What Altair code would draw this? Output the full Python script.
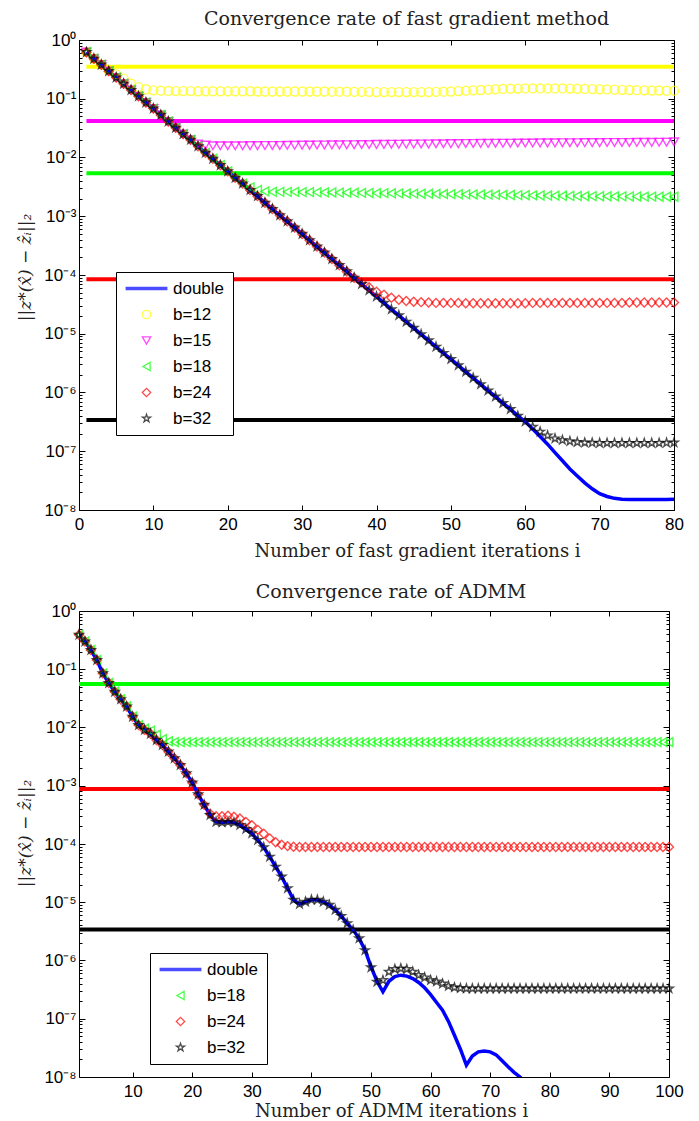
import json
import altair as alt
import pandas as pd

# ----------------------------------------------------------------- data
FG_ITER = list(range(1, 81))
AD_ITER = list(range(1, 101))

# fast gradient method, double precision
fg_double = [
    6.2e-1, 4.8e-1, 3.8e-1, 2.95e-1, 2.3e-1, 1.8e-1, 1.41e-1, 1.1e-1, 8.65e-2, 6.8e-2,
    5.3e-2, 4.1e-2, 3.2e-2, 2.5e-2, 2.0e-2, 1.55e-2, 1.2e-2, 9.5e-3, 7.4e-3, 5.8e-3,
    4.5e-3, 3.6e-3, 2.8e-3, 2.2e-3, 1.7e-3, 1.33e-3, 1.04e-3, 8.2e-4, 6.4e-4, 5.0e-4,
    3.9e-4, 3.05e-4, 2.4e-4, 1.87e-4, 1.47e-4, 1.15e-4, 8.95e-5, 7.0e-5, 5.5e-5, 4.3e-5,
    3.36e-5, 2.6e-5, 2.06e-5, 1.6e-5, 1.26e-5, 9.8e-6, 7.7e-6, 6.0e-6, 4.7e-6, 3.7e-6,
    2.9e-6, 2.25e-6, 1.77e-6, 1.38e-6, 1.08e-6, 8.5e-7, 6.6e-7, 5.2e-7, 4.0e-7, 3.2e-7,
    2.4e-7, 1.78e-7, 1.32e-7, 9.5e-8, 6.9e-8, 5.0e-8, 3.8e-8, 2.9e-8, 2.3e-8, 1.9e-8,
    1.7e-8, 1.58e-8, 1.53e-8, 1.51e-8, 1.51e-8, 1.51e-8, 1.51e-8, 1.51e-8, 1.51e-8, 1.52e-8,
]
fg_b12 = [
    6.2e-1, 4.8e-1, 3.8e-1, 3.0e-1, 2.6e-1, 2.2e-1, 1.8e-1, 1.58e-1, 1.45e-1, 1.39e-1,
    1.37e-1, 1.36e-1, 1.35e-1, 1.35e-1, 1.35e-1, 1.34e-1, 1.34e-1, 1.34e-1, 1.34e-1, 1.34e-1,
    1.34e-1, 1.34e-1, 1.34e-1, 1.33e-1, 1.33e-1, 1.33e-1, 1.33e-1, 1.33e-1, 1.33e-1, 1.33e-1,
    1.33e-1, 1.33e-1, 1.33e-1, 1.32e-1, 1.32e-1, 1.32e-1, 1.31e-1, 1.31e-1, 1.31e-1, 1.3e-1,
    1.3e-1, 1.3e-1, 1.3e-1, 1.3e-1, 1.3e-1, 1.3e-1, 1.3e-1, 1.31e-1, 1.32e-1, 1.33e-1,
    1.35e-1, 1.37e-1, 1.39e-1, 1.41e-1, 1.43e-1, 1.45e-1, 1.47e-1, 1.48e-1, 1.49e-1, 1.5e-1,
    1.5e-1, 1.5e-1, 1.5e-1, 1.5e-1, 1.5e-1, 1.49e-1, 1.48e-1, 1.47e-1, 1.46e-1, 1.45e-1,
    1.44e-1, 1.43e-1, 1.42e-1, 1.41e-1, 1.4e-1, 1.39e-1, 1.38e-1, 1.38e-1, 1.37e-1, 1.37e-1,
]
fg_b15 = fg_double[:15] + [
    1.7e-2, 1.62e-2, 1.58e-2, 1.58e-2, 1.58e-2,
    1.58e-2, 1.58e-2, 1.59e-2, 1.59e-2, 1.6e-2, 1.6e-2, 1.6e-2, 1.61e-2, 1.61e-2, 1.62e-2,
    1.62e-2, 1.63e-2, 1.63e-2, 1.64e-2, 1.64e-2, 1.65e-2, 1.65e-2, 1.66e-2, 1.66e-2, 1.67e-2,
    1.67e-2, 1.68e-2, 1.68e-2, 1.69e-2, 1.69e-2, 1.7e-2, 1.7e-2, 1.71e-2, 1.71e-2, 1.72e-2,
    1.72e-2, 1.73e-2, 1.73e-2, 1.74e-2, 1.74e-2, 1.75e-2, 1.75e-2, 1.75e-2, 1.76e-2, 1.76e-2,
    1.76e-2, 1.77e-2, 1.77e-2, 1.77e-2, 1.78e-2, 1.78e-2, 1.78e-2, 1.79e-2, 1.79e-2, 1.79e-2,
    1.8e-2, 1.8e-2, 1.8e-2, 1.8e-2, 1.81e-2, 1.81e-2, 1.81e-2, 1.82e-2, 1.82e-2, 1.85e-2,
]
fg_b18 = fg_double[:22] + [
    3.1e-3, 2.8e-3, 2.65e-3, 2.6e-3, 2.6e-3, 2.6e-3, 2.6e-3, 2.58e-3,
    2.57e-3, 2.56e-3, 2.55e-3, 2.54e-3, 2.53e-3, 2.52e-3, 2.51e-3, 2.5e-3, 2.49e-3, 2.48e-3,
    2.47e-3, 2.46e-3, 2.45e-3, 2.44e-3, 2.43e-3, 2.42e-3, 2.41e-3, 2.4e-3, 2.39e-3, 2.38e-3,
    2.37e-3, 2.36e-3, 2.35e-3, 2.34e-3, 2.33e-3, 2.32e-3, 2.31e-3, 2.3e-3, 2.29e-3, 2.28e-3,
    2.27e-3, 2.26e-3, 2.25e-3, 2.24e-3, 2.23e-3, 2.22e-3, 2.21e-3, 2.2e-3, 2.2e-3, 2.19e-3,
    2.19e-3, 2.18e-3, 2.18e-3, 2.17e-3, 2.17e-3, 2.16e-3, 2.16e-3, 2.15e-3, 2.15e-3, 2.15e-3,
]
fg_b24 = fg_double[:37] + [
    7.5e-5, 6.2e-5, 5.2e-5, 4.6e-5, 4.1e-5, 3.8e-5, 3.6e-5, 3.5e-5, 3.45e-5, 3.4e-5,
    3.35e-5, 3.35e-5, 3.35e-5, 3.35e-5, 3.3e-5, 3.3e-5, 3.3e-5, 3.3e-5, 3.3e-5, 3.3e-5, 3.3e-5,
    3.3e-5, 3.3e-5, 3.35e-5, 3.35e-5, 3.35e-5, 3.35e-5, 3.35e-5, 3.35e-5, 3.35e-5, 3.35e-5, 3.35e-5,
    3.35e-5, 3.35e-5, 3.35e-5, 3.35e-5, 3.4e-5, 3.4e-5, 3.4e-5, 3.4e-5, 3.4e-5, 3.4e-5, 3.4e-5,
]
fg_b32 = fg_double[:60] + [
    2.6e-7, 2.15e-7, 1.85e-7, 1.65e-7, 1.55e-7, 1.48e-7, 1.43e-7, 1.4e-7, 1.39e-7, 1.38e-7,
    1.38e-7, 1.38e-7, 1.38e-7, 1.38e-7, 1.38e-7, 1.38e-7, 1.38e-7, 1.38e-7, 1.39e-7, 1.4e-7,
]
fg_thr_values = [3.5e-1, 4.2e-2, 5.4e-3, 8.5e-5, 3.4e-7]

# ADMM, double precision (drops below the axis after i = 75)
ad_double = [
    3.9e-1, 3.0e-1, 2.14e-1, 1.44e-1, 8.5e-2, 5.8e-2, 4.1e-2, 3.05e-2, 2.29e-2, 1.53e-2,
    1.1e-2, 9.1e-3, 7.8e-3, 6.1e-3, 5.0e-3, 3.85e-3, 2.96e-3, 2.27e-3, 1.63e-3, 1.13e-3,
    7.1e-4, 4.7e-4, 3.15e-4, 2.4e-4, 2.35e-4, 2.4e-4, 2.35e-4, 2.12e-4, 1.81e-4, 1.52e-4,
    1.17e-4, 8.8e-5, 6.05e-5, 4.07e-5, 2.75e-5, 1.74e-5, 1.1e-5, 9.3e-6, 1.02e-5, 1.1e-5,
    1.1e-5, 1.02e-5, 9.0e-6, 7.4e-6, 5.8e-6, 4.36e-6, 3.34e-6, 2.4e-6, 1.5e-6, 7.8e-7,
    4.4e-7, 2.9e-7, 4.4e-7, 5.3e-7, 5.6e-7, 5.4e-7, 4.9e-7, 4.2e-7, 3.4e-7, 2.6e-7,
    1.9e-7, 1.4e-7, 9.0e-8, 5.2e-8, 3.0e-8, 1.6e-8, 2.3e-8, 2.7e-8, 2.8e-8, 2.7e-8,
    2.4e-8, 1.9e-8, 1.5e-8, 1.2e-8, 1.0e-8, 7.5e-9,
]
ad_b18 = ad_double[:11] + [
    9.5e-3, 8.8e-3, 7.5e-3, 6.3e-3, 5.8e-3,
    5.6e-3, 5.6e-3, 5.6e-3, 5.6e-3, 5.6e-3, 5.6e-3, 5.6e-3, 5.6e-3, 5.6e-3, 5.6e-3, 5.6e-3, 5.6e-3,
    5.6e-3, 5.6e-3, 5.6e-3, 5.6e-3, 5.6e-3, 5.6e-3, 5.6e-3, 5.6e-3, 5.6e-3, 5.6e-3, 5.6e-3, 5.6e-3,
    5.6e-3, 5.6e-3, 5.6e-3, 5.6e-3, 5.6e-3, 5.6e-3, 5.6e-3, 5.6e-3, 5.6e-3, 5.6e-3, 5.6e-3, 5.6e-3,
    5.6e-3, 5.6e-3, 5.6e-3, 5.6e-3, 5.6e-3, 5.6e-3, 5.6e-3, 5.6e-3, 5.6e-3, 5.6e-3, 5.6e-3, 5.6e-3,
    5.6e-3, 5.6e-3, 5.6e-3, 5.6e-3, 5.6e-3, 5.6e-3, 5.6e-3, 5.6e-3, 5.6e-3, 5.6e-3, 5.6e-3, 5.6e-3,
    5.6e-3, 5.6e-3, 5.6e-3, 5.6e-3, 5.6e-3, 5.6e-3, 5.6e-3, 5.6e-3, 5.6e-3, 5.6e-3, 5.6e-3, 5.6e-3,
    5.6e-3, 5.6e-3, 5.6e-3, 5.6e-3, 5.6e-3, 5.6e-3, 5.6e-3, 5.6e-3, 5.6e-3, 5.6e-3, 5.6e-3, 5.6e-3,
]
ad_b24 = ad_double[:22] + [
    3.3e-4, 3.0e-4, 3.0e-4, 3.05e-4, 2.95e-4, 2.75e-4, 2.4e-4, 2.1e-4, 1.75e-4, 1.5e-4,
    1.25e-4, 1.07e-4, 9.7e-5, 9.2e-5, 9.0e-5,
    8.9e-5, 8.9e-5, 8.9e-5, 8.9e-5, 8.9e-5, 8.9e-5, 8.9e-5, 8.9e-5, 8.9e-5, 8.9e-5, 8.9e-5, 8.9e-5,
    8.9e-5, 8.9e-5, 8.9e-5, 8.9e-5, 8.9e-5, 8.9e-5, 8.9e-5, 8.9e-5, 8.9e-5, 8.9e-5, 8.9e-5, 8.9e-5,
    8.9e-5, 8.9e-5, 8.9e-5, 8.9e-5, 8.9e-5, 8.9e-5, 8.9e-5, 8.9e-5, 8.9e-5, 8.9e-5, 8.9e-5, 8.9e-5,
    8.9e-5, 8.9e-5, 8.9e-5, 8.9e-5, 8.9e-5, 8.9e-5, 8.9e-5, 8.9e-5, 8.9e-5, 8.9e-5, 8.9e-5, 8.9e-5,
    8.9e-5, 8.9e-5, 8.9e-5, 8.9e-5, 8.9e-5, 8.9e-5, 8.9e-5, 8.9e-5, 8.9e-5, 8.9e-5, 8.9e-5, 8.9e-5,
    8.9e-5, 8.9e-5, 8.9e-5,
]
ad_b32 = ad_double[:49] + [
    7.6e-7, 4.3e-7, 4.6e-7, 6.4e-7, 7.1e-7, 7.3e-7, 7.1e-7, 6.4e-7, 5.6e-7, 5.1e-7,
    4.6e-7, 4.35e-7, 4.0e-7, 3.65e-7, 3.45e-7, 3.35e-7,
    3.3e-7, 3.3e-7, 3.3e-7, 3.3e-7, 3.3e-7, 3.3e-7, 3.3e-7, 3.3e-7, 3.3e-7, 3.3e-7, 3.3e-7, 3.3e-7,
    3.3e-7, 3.3e-7, 3.3e-7, 3.3e-7, 3.3e-7, 3.3e-7, 3.3e-7, 3.3e-7, 3.3e-7, 3.3e-7, 3.3e-7, 3.3e-7,
    3.3e-7, 3.3e-7, 3.3e-7, 3.3e-7, 3.3e-7, 3.3e-7, 3.3e-7, 3.3e-7, 3.3e-7, 3.3e-7, 3.3e-7,
]
ad_thr_values = [5.6e-2, 8.8e-4, 3.4e-6]

assert len(fg_double) == 80 and len(fg_b12) == 80 and len(fg_b15) == 80
assert len(fg_b18) == 80 and len(fg_b24) == 80 and len(fg_b32) == 80
assert len(ad_b18) == 100 and len(ad_b24) == 100 and len(ad_b32) == 100

FG_X_TICKS = [0, 10, 20, 30, 40, 50, 60, 70, 80]
AD_X_TICKS = [10, 20, 30, 40, 50, 60, 70, 80, 90, 100]
DECADES = [1e-8, 1e-7, 1e-6, 1e-5, 1e-4, 1e-3, 1e-2, 1e-1, 1e0]
MINOR_MULT = [2, 3, 4, 5, 6, 7, 8, 9]
Y_TICKS = DECADES + [m * d for d in DECADES[:-1] for m in MINOR_MULT]
EXP_LABELS = ["⁰", "⁻¹", "⁻²", "⁻³", "⁻⁴", "⁻⁵", "⁻⁶", "⁻⁷", "⁻⁸"]

# ----------------------------------------------------------------- style
STAR = ("M0,-1L0.225,-0.309L0.951,-0.309L0.363,0.118L0.588,0.809L0,0.382"
        "L-0.588,0.809L-0.363,0.118L-0.951,-0.309L-0.225,-0.309Z")
LINE_SYMBOL = "M-5,0L5,0"
SHAPES = {"b=12": "circle", "b=15": "triangle-down", "b=18": "triangle-left",
          "b=24": "diamond", "b=32": STAR}
COLORS = {"b=12": "#ffff00", "b=15": "#ff00ff", "b=18": "#00ff00",
          "b=24": "#ff0000", "b=32": "#000000"}
BLUE = "#0000ff"
SERIF = "DejaVu Serif"
SANS = "Liberation Sans"

IS_DECADE = "abs(log(datum.value)/LN10 - round(log(datum.value)/LN10)) < 0.01"
Y_LABEL_EXPR = (f"{IS_DECADE} ? '10' + {json.dumps(EXP_LABELS, ensure_ascii=False)}"
                f"[-round(log(datum.value)/LN10)] : ''")
Y_TICK_SIZE = {"condition": {"test": IS_DECADE, "value": 6}, "value": 3}


def panel(iters, double, series, thr_values, x_domain, x_ticks, W, H,
          title, title_dx, title_offset, xtitle, xtitle_x, xtitle_y, ytitle_y, leg_x, leg_y):
    names = [n for n, _ in series]
    rows = []
    for name, vals in series:
        for i, v in zip(iters, vals):
            rows.append({"i": i, "v": v, "series": name})
    pts = pd.DataFrame(rows)
    line = pd.DataFrame({"i": iters[:len(double)], "v": double})
    thr = pd.DataFrame({"x0": [iters[0]] * len(names), "x1": [iters[-1]] * len(names),
                        "v": thr_values, "col": [COLORS[n] for n in names]})

    xs = alt.Scale(domain=x_domain, nice=False, zero=False)
    ys = alt.Scale(type="log", domain=[1e-8, 1], nice=False)

    ax_x_main = alt.Axis(orient="bottom", values=x_ticks, ticks=False, domain=False, grid=False,
                         labelFont=SANS, labelFontSize=17, labelColor="black", labelPadding=6,
                         labelFlush=False, title=xtitle, titleFont=SERIF, titleFontSize=18,
                         titleFontWeight="normal", titleColor="#222", titleX=xtitle_x,
                         titleY=xtitle_y, titleAlign="center", titleBaseline="middle")
    ax_y_main = alt.Axis(orient="left", values=Y_TICKS, ticks=False, domain=False, grid=False,
                         labelExpr=Y_LABEL_EXPR, labelOverlap=False, labelFlush=False,
                         labelFont=SANS, labelFontSize=17, labelColor="black", labelPadding=3,
                         title="||z*(x̂) − ẑᵢ||₂", titleFont=SERIF, titleFontSize=17,
                         titleFontWeight="normal", titleFontStyle="italic", titleColor="#222",
                         titleX=-54, titleY=ytitle_y, titleAlign="center",
                         titleBaseline="middle", titleAngle=270)
    # inward ticks: axes pushed to the opposite side of the plot
    ax_x_bottom_in = alt.Axis(orient="top", offset=-H, values=x_ticks, labels=False,
                              domain=False, grid=False, tickSize=5, tickColor="black",
                              title=None)
    ax_x_top_in = alt.Axis(orient="bottom", offset=-H, values=x_ticks, labels=False,
                           domain=False, grid=False, tickSize=5, tickColor="black", title=None)
    ax_y_left_in = alt.Axis(orient="right", offset=-W, values=Y_TICKS, labels=False,
                            domain=False, grid=False, tickSize=Y_TICK_SIZE, tickColor="black",
                            title=None)
    ax_y_right_in = alt.Axis(orient="left", offset=-W, values=Y_TICKS, labels=False,
                             domain=False, grid=False, tickSize=Y_TICK_SIZE, tickColor="black",
                             title=None)

    thr_layer = alt.Chart(thr).mark_rule(strokeWidth=4).encode(
        x=alt.X("x0:Q", scale=xs, axis=ax_x_main),
        x2="x1:Q",
        y=alt.Y("v:Q", scale=ys, axis=ax_y_main),
        stroke=alt.Stroke("col:N", scale=None),
    )
    line_layer = alt.Chart(line).mark_line(color=BLUE, strokeWidth=3.5, clip=True).encode(
        x=alt.X("i:Q", scale=xs, axis=ax_x_bottom_in),
        y=alt.Y("v:Q", scale=ys, axis=ax_y_left_in),
    )
    leg_domain = ["double"] + names
    legend = alt.Legend(
        title=None, orient="none", legendX=leg_x, legendY=leg_y,
        fillColor="white", strokeColor="black", padding=8, cornerRadius=0,
        symbolSize=70, symbolStrokeWidth=alt.ExprRef(expr="datum.value === 'double' ? 3.5 : 1.3"),
        symbolOffset=14, labelOffset=18, labelFont=SANS, labelFontSize=17,
        labelColor="black", rowPadding=8,
    )
    pts_layer = alt.Chart(pts).mark_point(filled=False, size=80, strokeWidth=1.4).encode(
        x=alt.X("i:Q", scale=xs, axis=ax_x_top_in),
        y=alt.Y("v:Q", scale=ys, axis=ax_y_right_in),
        color=alt.Color("series:N", sort=leg_domain,
                        scale=alt.Scale(domain=leg_domain,
                                        range=[BLUE] + [COLORS[n] for n in names]),
                        legend=legend),
        shape=alt.Shape("series:N", sort=leg_domain,
                        scale=alt.Scale(domain=leg_domain,
                                        range=[LINE_SYMBOL] + [SHAPES[n] for n in names]),
                        legend=legend),
        order=alt.Order("k:Q"),
    ).transform_calculate(
        k=f"indexof({json.dumps(names)}, datum.series)"
    )

    return alt.layer(thr_layer, line_layer, pts_layer).resolve_axis(
        x="independent", y="independent"
    ).properties(
        width=W, height=H,
        title=alt.TitleParams(text=title, font=SERIF, fontSize=19, fontWeight="normal",
                              color="#222", dx=title_dx, offset=title_offset,
                              anchor="middle", frame="group"),
    )


top = panel(FG_ITER, fg_double,
            [("b=12", fg_b12), ("b=15", fg_b15), ("b=18", fg_b18), ("b=24", fg_b24),
             ("b=32", fg_b32)],
            fg_thr_values, [0, 80], FG_X_TICKS, 595, 470,
            "Convergence rate of fast gradient method", 30, 2,
            "Number of fast gradient iterations i", 338, 41, 227, 37, 232)

bottom = panel(AD_ITER, ad_double,
               [("b=18", ad_b18), ("b=24", ad_b24), ("b=32", ad_b32)],
               ad_thr_values, [1, 100], AD_X_TICKS, 590, 466,
               "Convergence rate of ADMM", 17, 0,
               "Number of ADMM iterations i", 312, 34, 222, 71, 342)

chart = alt.vconcat(top, bottom, spacing=21).resolve_scale(
    color="independent", shape="independent"
).resolve_legend(
    color="independent", shape="independent"
).configure_view(
    stroke="black", strokeWidth=1
).properties(padding={"left": 7, "top": 1, "right": 5, "bottom": 0})

chart.save("out.html", embed_options={"renderer": "svg", "actions": False})
